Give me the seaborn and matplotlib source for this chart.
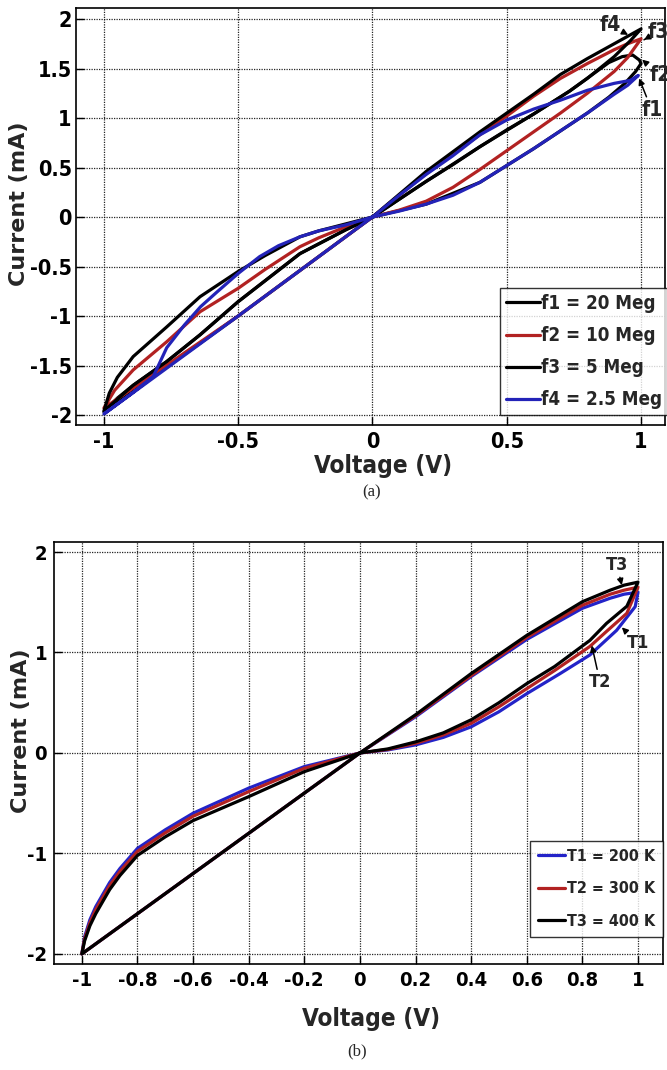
import numpy as np
import pandas as pd
import matplotlib
matplotlib.use("Agg")
import matplotlib.pyplot as plt
from matplotlib import font_manager as fm
from matplotlib.lines import Line2D
import seaborn as sns

# ---------------- data: panel (a) ----------------
f1_v = [0, 0.2, 0.4, 0.6, 0.8, 0.88, 0.94, 0.98, 1.0,
        0.994, 0.969, 0.93, 0.88, 0.833, 0.733, 0.6, 0.5, 0.4, 0.3, 0.2, 0.1, 0,
        -0.1, -0.27, -0.5, -0.642, -0.766, -0.891, -0.95, -1.0, -0.5, 0]
f1_i = [0, 0.13, 0.35, 0.69, 1.05, 1.21, 1.35, 1.47, 1.55,
        1.585, 1.636, 1.62, 1.56, 1.467, 1.27, 1.04, 0.88, 0.71, 0.53, 0.36, 0.18, 0,
        -0.13, -0.37, -0.855, -1.19, -1.46, -1.70, -1.83, -1.97, -1.0, 0]

f2_v = [0, 0.1, 0.2, 0.3, 0.4, 0.5, 0.6, 0.7, 0.8, 0.9, 0.95, 1.0,
        0.95, 0.9, 0.8, 0.7, 0.6, 0.5, 0.4, 0.3, 0.2, 0.1, 0,
        -0.1, -0.2, -0.27, -0.4, -0.5, -0.642, -0.766, -0.891, -0.96, -1.0, -0.5, 0]
f2_i = [0, 0.07, 0.16, 0.30, 0.48, 0.67, 0.86, 1.05, 1.25, 1.47, 1.61, 1.80,
        1.75, 1.69, 1.55, 1.40, 1.22, 1.02, 0.83, 0.64, 0.44, 0.22, 0,
        -0.10, -0.21, -0.30, -0.53, -0.72, -0.957, -1.26, -1.545, -1.75, -1.93, -1.0, 0]

f3_v = [0, 0.2, 0.4, 0.6, 0.733, 0.8, 0.9, 0.96, 1.0,
        0.9, 0.8, 0.7, 0.6, 0.5, 0.4, 0.3, 0.2, 0.1, 0,
        -0.1, -0.2, -0.27, -0.4, -0.5, -0.642, -0.766, -0.891, -0.95, -0.98, -1.0,
        -0.891, -0.766, -0.642, -0.5, -0.27, -0.1, 0]
f3_i = [0, 0.36, 0.71, 1.04, 1.27, 1.40, 1.62, 1.78, 1.90,
        1.75, 1.60, 1.44, 1.24, 1.05, 0.86, 0.66, 0.46, 0.23, 0,
        -0.07, -0.14, -0.20, -0.39, -0.55, -0.805, -1.11, -1.41, -1.62, -1.78, -1.96,
        -1.70, -1.46, -1.19, -0.855, -0.37, -0.13, 0]

f4_v = [0, 0.1, 0.2, 0.3, 0.4, 0.5, 0.6, 0.7, 0.8, 0.9, 0.95, 0.99,
        0.96, 0.9, 0.8, 0.7, 0.6, 0.5, 0.4, 0.3, 0.2, 0.1, 0,
        -0.1, -0.2, -0.27, -0.35, -0.42, -0.5, -0.58, -0.64, -0.7, -0.766, -0.816,
        -0.9, -1.0, -0.5, 0]
f4_i = [0, 0.06, 0.13, 0.22, 0.35, 0.52, 0.69, 0.87, 1.05, 1.24, 1.33, 1.43,
        1.38, 1.35, 1.28, 1.18, 1.09, 0.98, 0.83, 0.62, 0.43, 0.22, 0,
        -0.08, -0.14, -0.20, -0.29, -0.40, -0.57, -0.76, -0.906, -1.09, -1.32, -1.61,
        -1.79, -1.99, -1.0, 0]

freq_labels = ["f1 = 20 Meg", "f2 = 10 Meg", "f3 = 5 Meg", "f4 = 2.5 Meg"]
freq_colors = ["#000000", "#b22222", "#000000", "#2323b8"]

# ---------------- data: panel (b) ----------------
t3_v = [0, 0.2, 0.4, 0.6, 0.8, 0.9, 0.95, 1.0,
        0.96, 0.887, 0.827, 0.7, 0.6, 0.5, 0.4, 0.3, 0.2, 0.1, 0,
        -0.2, -0.4, -0.6, -0.7, -0.8, -0.863, -0.9, -0.923, -0.95, -0.971, -0.99, -1.0, -0.5, 0]
t3_i = [0, 0.38, 0.79, 1.17, 1.505, 1.62, 1.67, 1.70,
        1.46, 1.29, 1.12, 0.86, 0.69, 0.50, 0.33, 0.20, 0.11, 0.04, 0,
        -0.186, -0.435, -0.673, -0.835, -1.02, -1.22, -1.36, -1.47, -1.60, -1.72, -1.87, -2.0, -1.0, 0]

t2_v = [0, 0.2, 0.4, 0.6, 0.8, 0.9, 0.95, 1.0,
        0.96, 0.887, 0.827, 0.7, 0.6, 0.5, 0.4, 0.3, 0.2, 0.1, 0,
        -0.2, -0.4, -0.6, -0.7, -0.8, -0.863, -0.9, -0.923, -0.95, -0.971, -0.99, -1.0, -0.5, 0]
t2_i = [0, 0.37, 0.77, 1.15, 1.47, 1.58, 1.62, 1.65,
        1.39, 1.21, 1.06, 0.82, 0.64, 0.46, 0.295, 0.18, 0.096, 0.035, 0,
        -0.153, -0.385, -0.63, -0.795, -0.98, -1.18, -1.32, -1.43, -1.56, -1.69, -1.85, -2.0, -1.0, 0]

t1_v = [0, 0.2, 0.4, 0.6, 0.8, 0.9, 0.95, 1.0,
        0.99, 0.923, 0.827, 0.72, 0.6, 0.5, 0.4, 0.3, 0.2, 0.1, 0,
        -0.2, -0.4, -0.6, -0.7, -0.8, -0.863, -0.9, -0.923, -0.95, -0.971, -0.99, -1.0, -0.5, 0]
t1_i = [0, 0.36, 0.76, 1.13, 1.44, 1.54, 1.58, 1.60,
        1.456, 1.22, 0.975, 0.79, 0.59, 0.41, 0.26, 0.155, 0.08, 0.03, 0,
        -0.136, -0.35, -0.60, -0.765, -0.95, -1.15, -1.29, -1.40, -1.53, -1.66, -1.83, -2.0, -1.0, 0]

temp_labels = ["T1 = 200 K", "T2 = 300 K", "T3 = 400 K"]
temp_colors = ["#2323c8", "#b22222", "#000000"]

xticks_a = [-1, -0.5, 0, 0.5, 1]
xticklabels_a = ["-1", "-0.5", "0", "0.5", "1"]
yticks_a = [-2, -1.5, -1, -0.5, 0, 0.5, 1, 1.5, 2]
yticklabels_a = ["-2", "-1.5", "-1", "-0.5", "0", "0.5", "1", "1.5", "2"]
xticks_b = [-1, -0.8, -0.6, -0.4, -0.2, 0, 0.2, 0.4, 0.6, 0.8, 1]
xticklabels_b = ["-1", "-0.8", "-0.6", "-0.4", "-0.2", "0", "0.2", "0.4", "0.6", "0.8", "1"]
yticks_b = [-2, -1, 0, 1, 2]
yticklabels_b = ["-2", "-1", "0", "1", "2"]

# ---------------- style ----------------
sns.set_theme(style="white")
plt.rcParams["font.family"] = ["DejaVu Sans"]


def find_font(pattern):
    for f in fm.fontManager.ttflist:
        fn = f.fname.split("/")[-1].replace("-", "").replace("_", "").lower()
        if fn.startswith(pattern):
            return f.fname
    return None


cond = None
for pat in ["dejavusanscondensedbold.", "liberationsansnarrowbold.", "notosanscondensedbold.",
            "opensanscondbold.", "opensanscondensedbold.", "robotocondensedbold.",
            "notosanscondensedsemibold.", "robotocondensedmedium."]:
    cond = find_font(pat)
    if cond:
        break


def cfont(size):
    if cond:
        return fm.FontProperties(fname=cond, size=size)
    return fm.FontProperties(family="DejaVu Sans", weight="bold", size=size * 0.85)


def build(vs, is_, labels):
    rows = []
    for lab, v, i in zip(labels, vs, is_):
        for k, (a, b) in enumerate(zip(v, i)):
            rows.append({"series": lab, "order": k, "V": a, "I": b})
    return pd.DataFrame(rows)


df_a = build([f1_v, f2_v, f3_v, f4_v], [f1_i, f2_i, f3_i, f4_i], freq_labels)
df_b = build([t1_v, t2_v, t3_v], [t1_i, t2_i, t3_i], temp_labels)

fig = plt.figure(figsize=(6.67, 10.7), dpi=100)
ax1 = fig.add_axes([0.1139, 0.6028, 0.883, 0.3897])
ax2 = fig.add_axes([0.0810, 0.0991, 0.913, 0.3944])


def style_axes(ax, xt, xtl, yt, ytl, xlim, ylim, tsize, ypad):
    ax.set_xlim(*xlim)
    ax.set_ylim(*ylim)
    ax.set_xticks(xt)
    ax.set_yticks(yt)
    ax.set_xticklabels(xtl, fontproperties=cfont(tsize))
    ax.set_yticklabels(ytl, fontproperties=cfont(tsize))
    ax.grid(True, color="black", linestyle=(0, (1, 1)), linewidth=0.9, alpha=0.85)
    ax.set_axisbelow(True)
    ax.tick_params(direction="in", length=6, width=1.0, colors="black",
                   bottom=True, left=True, pad=5)
    ax.tick_params(axis="y", pad=ypad)
    for s in ax.spines.values():
        s.set_color("black")
        s.set_linewidth(1.2)
    ax.set_facecolor("white")


for lab, col in zip(freq_labels, freq_colors):
    sub = df_a[df_a["series"] == lab]
    sns.lineplot(data=sub, x="V", y="I", sort=False, estimator=None, color=col,
                 linewidth=2.3, ax=ax1, legend=False)

for lab, col in zip(temp_labels, temp_colors):
    sub = df_b[df_b["series"] == lab]
    sns.lineplot(data=sub, x="V", y="I", sort=False, estimator=None, color=col,
                 linewidth=2.3, ax=ax2, legend=False)

style_axes(ax1, xticks_a, xticklabels_a, yticks_a, yticklabels_a,
           (-1.104, 1.089), (-2.101, 2.111), 15.5, 3)
style_axes(ax2, xticks_b, xticklabels_b, yticks_b, yticklabels_b,
           (-1.10, 1.09), (-2.1, 2.1), 14.5, 5)

ax1.set_xlabel("Voltage (V)", fontproperties=cfont(17.5))
ax2.set_xlabel("Voltage (V)", fontproperties=cfont(17.5))
ax1.xaxis.set_label_coords(0.521, -0.07)
ax2.xaxis.set_label_coords(0.52, -0.102)
for ax, xc, yc in ((ax1, -0.08, 0.53), (ax2, -0.037, 0.552)):
    ax.set_ylabel("Current (mA)", fontsize=16, fontweight="bold", family="DejaVu Sans")
    ax.yaxis.set_label_coords(xc, yc)

# legends
h_a = [Line2D([], [], color=c, lw=2.3) for c in freq_colors]
leg1 = ax1.legend(h_a, freq_labels, loc="lower right", bbox_to_anchor=(1.004, 0.024),
                  borderaxespad=0, prop=cfont(13.5), handlelength=1.8, handletextpad=0.05,
                  labelspacing=0.7, borderpad=0.3, frameon=True, fancybox=False)
leg1.get_frame().set_edgecolor("black")
leg1.get_frame().set_linewidth(1.0)

h_b = [Line2D([], [], color=c, lw=2.3) for c in temp_colors]
leg2 = ax2.legend(h_b, temp_labels, loc="lower right", bbox_to_anchor=(1.0, 0.064),
                  borderaxespad=0, prop=cfont(11.5), handlelength=1.7, handletextpad=0.1,
                  labelspacing=1.1, borderpad=0.5, frameon=True, fancybox=False)
leg2.get_frame().set_edgecolor("black")
leg2.get_frame().set_linewidth(1.0)

# annotations
arr = dict(arrowstyle="-|>", color="black", lw=1.1, mutation_scale=9, shrinkA=0, shrinkB=0)
for txt, xy, xyt in [("f4", (0.952, 1.84), (0.885, 1.94)),
                     ("f3", (1.011, 1.79), (1.063, 1.87)),
                     ("f2", (1.004, 1.59), (1.071, 1.43)),
                     ("f1", (0.993, 1.40), (1.04, 1.08))]:
    ax1.annotate(txt, xy=xy, xytext=xyt, fontproperties=cfont(15), ha="center", va="center",
                 arrowprops=arr, annotation_clip=False)

for txt, xy, xyt in [("T3", (0.942, 1.67), (0.924, 1.87)),
                     ("T1", (0.942, 1.25), (1.0, 1.09)),
                     ("T2", (0.834, 1.07), (0.863, 0.71))]:
    ax2.annotate(txt, xy=xy, xytext=xyt, fontproperties=cfont(13), ha="center", va="center",
                 arrowprops=arr, annotation_clip=False)

fig.text(372 / 667, 1 - 492 / 1070, "(a)", family="Liberation Serif", fontsize=12,
         ha="center", va="center")
fig.text(357 / 667, 1 - 1051 / 1070, "(b)", family="Liberation Serif", fontsize=12,
         ha="center", va="center")

fig.savefig("out.png", dpi=100, facecolor="white")
